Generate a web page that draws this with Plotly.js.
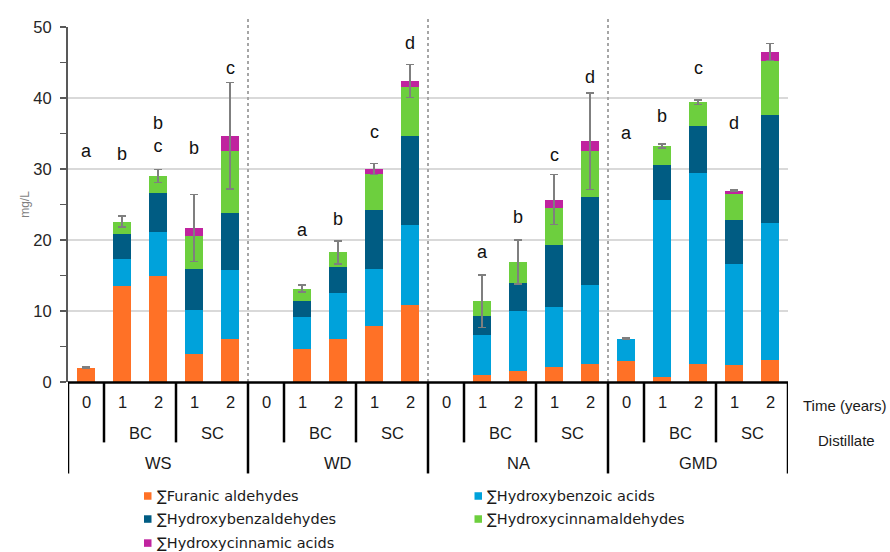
<!DOCTYPE html>
<html>
<head>
<meta charset="utf-8">
<script src="https://cdn.plot.ly/plotly-3.0.1.min.js"></script>
<style>html,body{margin:0;padding:0;background:#fff;}#chart{width:890px;height:552px;}</style>
</head>
<body>
<div id="chart"></div>
<script>
// ---- data ----
var groups = ['WS', 'WD', 'NA', 'GMD'];
var distillates = ['BC', 'SC'];
var timeLabels = ['0', '1', '2', '1', '2'];
var seriesNames = ['∑Furanic aldehydes', '∑Hydroxybenzoic acids', '∑Hydroxybenzaldehydes', '∑Hydroxycinnamaldehydes', '∑Hydroxycinnamic acids'];
var furanic = [2.0, 13.5, 14.9, 3.9, 6.0, 0, 4.6, 6.1, 7.9, 10.9, 0, 0.95, 1.55, 2.1, 2.6, 2.9, 0.7, 2.6, 2.35, 3.15];
var hbAcids = [0, 3.8, 6.2, 6.2, 9.8, 0, 4.6, 6.45, 8.0, 11.2, 0, 5.65, 8.4, 8.5, 11.0, 3.2, 25.0, 26.9, 14.3, 19.2];
var hbAldehydes = [0, 3.5, 5.5, 5.8, 8.0, 0, 2.25, 3.65, 8.3, 12.6, 0, 2.65, 3.95, 8.7, 12.4, 0, 4.9, 6.5, 6.2, 15.3];
var hcAldehydes = [0, 1.8, 2.4, 4.6, 8.8, 0, 1.7, 2.05, 5.1, 6.9, 0, 2.1, 3.0, 5.2, 6.6, 0, 2.65, 3.4, 3.7, 7.5];
var hcAcids = [0, 0, 0, 1.2, 2.1, 0, 0, 0, 0.7, 0.8, 0, 0, 0, 1.2, 1.3, 0, 0, 0, 0.4, 1.3];
var errors = [0.1, 0.8, 0.9, 4.7, 7.5, NaN, 0.5, 1.6, 0.8, 2.3, NaN, 3.7, 3.1, 3.5, 6.8, 0.1, 0.3, 0.3, 0.1, 1.2];
var letters = ['a', 'b', 'b<br>c', 'b', 'c', '', 'a', 'b', 'c', 'd', '', 'a', 'b', 'c', 'd', 'a', 'b', 'c', 'd', 'e'];
var letterY = [32.55, 32.1, 34.8, 33.0, 44.2, 0, 21.4, 22.9, 35.2, 47.8, 0, 18.3, 23.2, 32.0, 43.0, 35.1, 37.4, 44.2, 36.5, 50.9];

// ---- styles ----
var colors = ['#FF7126', '#00A2DB', '#005C83', '#6DCF3E', '#C0239F'];
var seriesValues = [furanic, hbAcids, hbAldehydes, hcAldehydes, hcAcids];
var FONT = 'Liberation Sans, Arial, sans-serif';
var nPer = timeLabels.length;
var nBars = groups.length * nPer;
var xs = [];
for (var i = 0; i < nBars; i++) xs.push(i);

var traces = seriesValues.map(function (vals, k) {
  var t = {
    type: 'bar', x: xs, y: vals, name: seriesNames[k],
    marker: {color: colors[k], line: {width: 0}},
    width: 0.52, hoverinfo: 'y+name'
  };
  if (k === seriesValues.length - 1) {
    t.error_y = {type: 'data', array: errors, visible: true, color: '#7f7f7f', thickness: 1.5, width: 4};
  }
  return t;
});

// plot geometry helpers (paper coords)
var plotTop = 27.3, plotBottom = 381.7, plotH = plotBottom - plotTop;
function py(pix) { return (plotBottom - pix) / plotH; }
function px(pix) { return (pix - 68) / 720; }

var shapes = [];
var annotations = [];

// dotted group separators
for (var g = 1; g < groups.length; g++) {
  shapes.push({type: 'line', xref: 'x', yref: 'paper', x0: g * nPer - 0.5, x1: g * nPer - 0.5, y0: 0, y1: py(17),
    line: {color: '#a6a6a6', width: 2, dash: 'dot'}});
}
// baseline
shapes.push({type: 'line', xref: 'x', yref: 'paper', x0: -0.5, x1: nBars - 0.5, y0: py(382.3), y1: py(382.3),
  line: {color: '#000', width: 2.5}});
// long vertical lines
for (var g = 0; g <= groups.length; g++) {
  shapes.push({type: 'line', xref: 'x', yref: 'paper', x0: g * nPer - 0.5, x1: g * nPer - 0.5, y0: py(382.3), y1: py(473),
    line: {color: '#000', width: 2.5}});
}
// medium vertical lines
for (var g = 0; g < groups.length; g++) {
  [0.5, 2.5].forEach(function (o) {
    shapes.push({type: 'line', xref: 'x', yref: 'paper', x0: g * nPer + o, x1: g * nPer + o, y0: py(382.3), y1: py(442),
      line: {color: '#000', width: 2.5}});
  });
}

// axis category labels
var labFont = {family: FONT, size: 16.5, color: '#1a1a1a'};
for (var g = 0; g < groups.length; g++) {
  for (var j = 0; j < nPer; j++) {
    annotations.push({xref: 'x', yref: 'paper', x: g * nPer + j, y: py(402), yanchor: 'middle', text: timeLabels[j], showarrow: false, font: labFont});
  }
  distillates.forEach(function (d, k) {
    annotations.push({xref: 'x', yref: 'paper', x: g * nPer + 1.5 + 2 * k, y: py(432.5), yanchor: 'middle', text: d, showarrow: false, font: labFont});
  });
  annotations.push({xref: 'x', yref: 'paper', x: g * nPer + 2, y: py(463), yanchor: 'middle', text: groups[g], showarrow: false, font: labFont});
}
annotations.push({xref: 'paper', yref: 'paper', x: px(801), y: py(405), xanchor: 'left', yanchor: 'middle', text: 'Time (years)', showarrow: false,
  font: {family: 'Liberation Sans Narrow, ' + FONT, size: 15, color: '#1a1a1a'}});
annotations.push({xref: 'paper', yref: 'paper', x: px(816), y: py(440), xanchor: 'left', yanchor: 'middle', text: 'Distillate', showarrow: false,
  font: {family: 'Liberation Sans Narrow, ' + FONT, size: 15, color: '#1a1a1a'}});

// significance letters
letters.forEach(function (L, i) {
  if (!L) return;
  annotations.push({xref: 'x', yref: 'y', x: i, y: letterY[i], yanchor: 'middle', text: L, showarrow: false,
    font: {family: FONT, size: 18, color: '#111'}});
});

// manual legend
var legRows = [495.5, 518.5, 542.5];
var legCols = [[144, 155], [474.5, 485]];
seriesNames.forEach(function (nm, k) {
  var r = Math.floor(k / 2), c = k % 2;
  var yc = legRows[r];
  shapes.push({type: 'rect', xref: 'paper', yref: 'paper', x0: px(legCols[c][0]), x1: px(legCols[c][0] + 7.5),
    y0: py(yc + 3.75), y1: py(yc - 3.75), fillcolor: colors[k], line: {width: 0}});
  annotations.push({xref: 'paper', yref: 'paper', x: px(legCols[c][1]), y: py(yc), xanchor: 'left', yanchor: 'middle', text: nm, showarrow: false,
    font: {family: 'DejaVu Sans, ' + FONT, size: 14.5, color: '#1a1a1a'}});
});

var layout = {
  width: 890, height: 552,
  margin: {l: 68, r: 102, t: plotTop, b: 552 - plotBottom, pad: 0},
  paper_bgcolor: '#fff', plot_bgcolor: '#fff',
  barmode: 'stack', bargap: 0.48, showlegend: false,
  xaxis: {range: [-0.5, nBars - 0.5], showgrid: false, zeroline: false, showline: false, showticklabels: false, ticks: '', fixedrange: true},
  yaxis: {
    range: [0, 50], dtick: 10, tick0: 0, showgrid: true, gridcolor: '#d9d9d9', gridwidth: 1.5,
    zeroline: false, showline: true, linecolor: '#595959', linewidth: 2,
    ticks: 'outside', ticklen: 6, tickwidth: 1.5, tickcolor: '#595959', ticklabelstandoff: 5,
    minor: {dtick: 5, ticks: 'outside', ticklen: 6, tickwidth: 1.5, tickcolor: '#595959', showgrid: false},
    tickfont: {family: FONT, size: 16.5, color: '#262626'},
    title: {text: 'mg/L', font: {family: FONT, size: 12, color: '#7f7f7f'}, standoff: 1},
    automargin: false, fixedrange: true
  },
  shapes: shapes,
  annotations: annotations,
  font: {family: FONT}
};

Plotly.newPlot('chart', traces, layout, {displayModeBar: false, staticPlot: true});
</script>
</body>
</html>
